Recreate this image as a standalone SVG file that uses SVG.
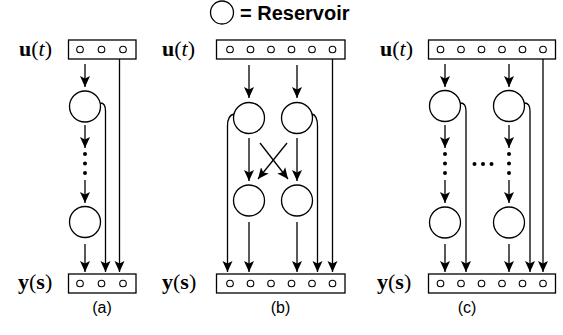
<svg xmlns="http://www.w3.org/2000/svg" width="563" height="335" viewBox="0 0 563 335">
<style>
.box{fill:#fff;stroke:#000;stroke-width:1.3}
.pin{fill:#fff;stroke:#000;stroke-width:1.1}
.res{fill:#fff;stroke:#000;stroke-width:1.3}
.dot{fill:#000}
.con{fill:none;stroke:#000;stroke-width:1.3}
.arr{fill:none;stroke:#000;stroke-width:1.3;marker-end:url(#ah)}
.math{font-family:"Liberation Serif","Times New Roman",serif;font-size:22px;fill:#000}
.cap{font-family:"Liberation Sans",Arial,sans-serif;font-size:16px;fill:#000;text-anchor:middle}
.leg{font-family:"Liberation Sans",Arial,sans-serif;font-size:20px;font-weight:bold;fill:#000}
</style>
<defs>
<marker id="ah" markerUnits="userSpaceOnUse" markerWidth="11" markerHeight="11" refX="11" refY="5.5" orient="auto">
<path d="M0,0.5 L11,5.5 L0,10.5 L2.5,5.5 z" fill="#000"/>
</marker>
</defs>
<rect width="563" height="335" fill="#fff"/>

<g id="legend">
<circle cx="222" cy="12.5" r="11.5" class="res"/>
<text x="240" y="20" class="leg">= Reservoir</text>
</g>

<!-- Panel (a) -->
<g id="a-input">
<text x="19" y="56" class="math"><tspan font-weight="bold">u</tspan>(<tspan font-style="italic">t</tspan>)</text>
<rect x="68.5" y="40" width="67.5" height="19" class="box"/>
<circle cx="80" cy="49.5" r="3.3" class="pin"/>
<circle cx="101.5" cy="49.5" r="3.3" class="pin"/>
<circle cx="123" cy="49.5" r="3.3" class="pin"/>
</g>
<g id="a-res1"><circle cx="85" cy="106.5" r="15.5" class="res"/></g>
<g id="a-dots">
<circle cx="85" cy="154" r="2" class="dot"/>
<circle cx="85" cy="163.5" r="2" class="dot"/>
<circle cx="85" cy="173" r="2" class="dot"/>
</g>
<g id="a-res2"><circle cx="85" cy="222" r="15.5" class="res"/></g>
<g id="a-output">
<text x="18" y="289" class="math"><tspan font-weight="bold">y</tspan>(<tspan font-weight="bold">s</tspan>)</text>
<rect x="68.5" y="274" width="67.5" height="19" class="box"/>
<circle cx="80" cy="283.5" r="3.3" class="pin"/>
<circle cx="101.5" cy="283.5" r="3.3" class="pin"/>
<circle cx="123" cy="283.5" r="3.3" class="pin"/>
</g>
<g id="a-caption"><text x="102" y="313" class="cap">(a)</text></g>

<!-- Panel (b) -->
<g id="b-input">
<text x="162" y="56" class="math"><tspan font-weight="bold">u</tspan>(<tspan font-style="italic">t</tspan>)</text>
<rect x="216.5" y="40" width="128.5" height="19" class="box"/>
<circle cx="230" cy="49.5" r="3.3" class="pin"/>
<circle cx="250.5" cy="49.5" r="3.3" class="pin"/>
<circle cx="271" cy="49.5" r="3.3" class="pin"/>
<circle cx="291.5" cy="49.5" r="3.3" class="pin"/>
<circle cx="312" cy="49.5" r="3.3" class="pin"/>
<circle cx="332.5" cy="49.5" r="3.3" class="pin"/>
</g>
<g id="b-res1"><circle cx="249" cy="118" r="15.5" class="res"/></g>
<g id="b-res2"><circle cx="297" cy="118" r="15.5" class="res"/></g>
<g id="b-res3"><circle cx="249" cy="200.5" r="15.5" class="res"/></g>
<g id="b-res4"><circle cx="297" cy="200.5" r="15.5" class="res"/></g>
<g id="b-output">
<text x="162" y="289" class="math"><tspan font-weight="bold">y</tspan>(<tspan font-weight="bold">s</tspan>)</text>
<rect x="216.5" y="274" width="128.5" height="19" class="box"/>
<circle cx="230" cy="283.5" r="3.3" class="pin"/>
<circle cx="250.5" cy="283.5" r="3.3" class="pin"/>
<circle cx="271" cy="283.5" r="3.3" class="pin"/>
<circle cx="291.5" cy="283.5" r="3.3" class="pin"/>
<circle cx="312" cy="283.5" r="3.3" class="pin"/>
<circle cx="332.5" cy="283.5" r="3.3" class="pin"/>
</g>
<g id="b-caption"><text x="280.5" y="313" class="cap">(b)</text></g>

<!-- Panel (c) -->
<g id="c-input">
<text x="380" y="56" class="math"><tspan font-weight="bold">u</tspan>(<tspan font-style="italic">t</tspan>)</text>
<rect x="428.5" y="40" width="127" height="19" class="box"/>
<circle cx="440.5" cy="49.5" r="3.3" class="pin"/>
<circle cx="461" cy="49.5" r="3.3" class="pin"/>
<circle cx="481.5" cy="49.5" r="3.3" class="pin"/>
<circle cx="502" cy="49.5" r="3.3" class="pin"/>
<circle cx="522.5" cy="49.5" r="3.3" class="pin"/>
<circle cx="543" cy="49.5" r="3.3" class="pin"/>
</g>
<g id="c-res1"><circle cx="445" cy="106" r="15.5" class="res"/></g>
<g id="c-res2"><circle cx="509" cy="106" r="15.5" class="res"/></g>
<g id="c-dots">
<circle cx="445" cy="154" r="2" class="dot"/>
<circle cx="445" cy="163.5" r="2" class="dot"/>
<circle cx="445" cy="173" r="2" class="dot"/>
<circle cx="509" cy="154" r="2" class="dot"/>
<circle cx="509" cy="163.5" r="2" class="dot"/>
<circle cx="509" cy="173" r="2" class="dot"/>
<circle cx="474.5" cy="164" r="2" class="dot"/>
<circle cx="483" cy="164" r="2" class="dot"/>
<circle cx="491.5" cy="164" r="2" class="dot"/>
</g>
<g id="c-res3"><circle cx="445" cy="222.5" r="15.5" class="res"/></g>
<g id="c-res4"><circle cx="509" cy="222.5" r="15.5" class="res"/></g>
<g id="c-output">
<text x="377" y="289" class="math"><tspan font-weight="bold">y</tspan>(<tspan font-weight="bold">s</tspan>)</text>
<rect x="428.5" y="274" width="127" height="19" class="box"/>
<circle cx="440.5" cy="283.5" r="3.3" class="pin"/>
<circle cx="461" cy="283.5" r="3.3" class="pin"/>
<circle cx="481.5" cy="283.5" r="3.3" class="pin"/>
<circle cx="502" cy="283.5" r="3.3" class="pin"/>
<circle cx="522.5" cy="283.5" r="3.3" class="pin"/>
<circle cx="543" cy="283.5" r="3.3" class="pin"/>
</g>
<g id="c-caption"><text x="467" y="313" class="cap">(c)</text></g>

<g id="connectors">
<!-- (a) -->
<path class="arr" d="M85,64 V87"/>
<path class="arr" d="M85,125 V148"/>
<path class="arr" d="M85,180 V203"/>
<path class="arr" d="M85,244 V272"/>
<path class="arr" d="M100.5,103 C104,103 105.5,106 105.5,111 V272"/>
<path class="arr" d="M119.5,59 V272"/>
<!-- (b) -->
<path class="arr" d="M249,65 V98"/>
<path class="arr" d="M297,65 V98"/>
<path class="arr" d="M249,138 V181"/>
<path class="arr" d="M297,138 V181"/>
<path class="arr" d="M260,143 L288,179"/>
<path class="arr" d="M287,143 L258,179"/>
<path class="arr" d="M249,222 V272"/>
<path class="arr" d="M297,222 V272"/>
<path class="arr" d="M234,114 C229,115 227.5,119 227.5,126 V272"/>
<path class="arr" d="M312,114 C316,115 317.5,119 317.5,126 V272"/>
<path class="arr" d="M332.5,59 V272"/>
<!-- (c) -->
<path class="arr" d="M445,64 V87"/>
<path class="arr" d="M509,64 V87"/>
<path class="arr" d="M445,125 V148"/>
<path class="arr" d="M509,125 V148"/>
<path class="arr" d="M445,180 V203"/>
<path class="arr" d="M509,180 V203"/>
<path class="arr" d="M445,244 V272"/>
<path class="arr" d="M509,244 V272"/>
<path class="arr" d="M460.5,103 C464,103 466,106 466,111 V272"/>
<path class="arr" d="M524.5,103 C528,103 530,106 530,111 V272"/>
<path class="arr" d="M543,59 V272"/>
</g>
</svg>
